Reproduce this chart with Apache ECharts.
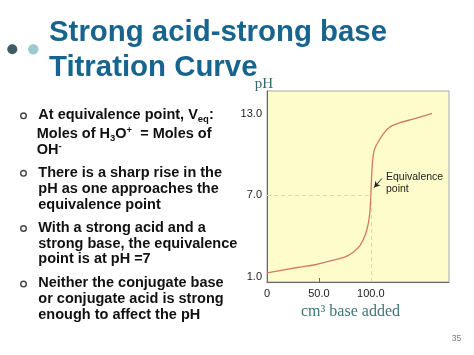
<!DOCTYPE html>
<html><head><meta charset="utf-8">
<script src="https://cdn.jsdelivr.net/npm/echarts@6/dist/echarts.min.js"></script>
<style>html,body{margin:0;padding:0;background:#fff}#c{width:474px;height:355px}</style>
</head><body><div id="c"></div>
<script>
// ---- data ----
const titleLines = ['Strong acid-strong base', 'Titration Curve'];
const volumes = [0, 29.1, 48.4, 63.8, 75.3, 83.0, 89.7, 94.5, 97.4, 99.1, 100.1, 100.8, 101.6, 102.7, 104.4, 107.3, 112.2, 118.6, 128.2, 140.7, 159.0];
const phValues = [1.28, 1.67, 1.91, 2.21, 2.45, 2.80, 3.31, 4.05, 4.86, 5.75, 7.12, 8.45, 9.44, 10.11, 10.56, 10.96, 11.56, 12.05, 12.37, 12.62, 13.04];
const yTickValues = [1, 7, 13];
const xTickValues = [0, 50, 100];
const equivalence = [100, 7];
const arrowFrom = [110.6, 8.24];
const arrowTo = [103.2, 7.57];
const yAxisName = 'pH';
const xAxisName = 'cm\u00b3 base added';
const annotationText = 'Equivalence\npoint';
const pageNumber = '35';

const SANS = 'Liberation Sans, Arial, sans-serif';
const SERIF = 'Liberation Serif, Times New Roman, serif';
const Y_MIN = 0.6, Y_MAX = 14.7, X_MIN = 0, X_MAX = 175.3;

const BODY = 14.5;
const bodyRich = {
  n: { fontSize: BODY, fontFamily: SANS, fontWeight: 'bold', fill: '#111', lineHeight: 18 },
  sb: { fontSize: 9.5, fontFamily: SANS, fontWeight: 'bold', fill: '#111', lineHeight: 9, verticalAlign: 'bottom' },
  sp: { fontSize: 9.5, fontFamily: SANS, fontWeight: 'bold', fill: '#111', lineHeight: 9, verticalAlign: 'top' }
};
// [text, x, baseline, hasBullet]
const bodyLines = [
  ['{n|At equivalence point, V}{sb|eq}{n|:}', 38.3, 120, true],
  ['{n|Moles of H}{sb|3}{n|O}{sp|+}{n|  = Moles of}', 36.7, 139, false],
  ['{n|OH}{sp|-}', 36.7, 155.2, false],
  ['{n|There is a sharp rise in the}', 38.3, 177.5, true],
  ['{n|pH as one approaches the}', 38.3, 193.7, false],
  ['{n|equivalence point}', 38.3, 210, false],
  ['{n|With a strong acid and a}', 38.3, 232.7, true],
  ['{n|strong base, the equivalence}', 38.3, 249, false],
  ['{n|point is at pH =7}', 38.3, 264.3, false],
  ['{n|Neither the conjugate base}', 38.3, 288.3, true],
  ['{n|or conjugate acid is strong}', 38.3, 304.3, false],
  ['{n|enough to affect the pH}', 38.3, 320.3, false]
];

const graphics = [];
graphics.push({ type: 'circle', shape: { cx: 12.3, cy: 49.3, r: 5 }, style: { fill: '#3d5c63' } });
graphics.push({ type: 'circle', shape: { cx: 33.3, cy: 49.3, r: 5.2 }, style: { fill: '#9dc9d4' } });
titleLines.forEach((t, i) => {
  graphics.push({ type: 'text', x: 49, y: [33, 67.5][i],
    style: { text: t, fontSize: 29.4, fontWeight: 'bold', fontFamily: SANS, fill: '#17648f', align: 'left', verticalAlign: 'middle' } });
});
bodyLines.forEach(([t, x, base, bullet]) => {
  graphics.push({ type: 'text', x: x, y: base - 5,
    style: { text: t, rich: bodyRich, align: 'left', verticalAlign: 'middle' } });
  if (bullet) {
    graphics.push({ type: 'circle', shape: { cx: 23.5, cy: base - 4.2, r: 2.8 },
      style: { fill: 'none', stroke: '#444', lineWidth: 1.4 } });
  }
});
graphics.push({ type: 'text', x: 264, y: 83.9,
  style: { text: yAxisName, fontSize: 15, fontFamily: SERIF, fill: '#2e6b6e', align: 'center', verticalAlign: 'middle' } });
graphics.push({ type: 'text', x: 350.5, y: 311.3,
  style: { text: xAxisName, fontSize: 16, fontFamily: SERIF, fill: '#3a7677', align: 'center', verticalAlign: 'middle' } });
graphics.push({ type: 'text', x: 386, y: 183.2,
  style: { text: annotationText, fontSize: 10.5, lineHeight: 12.6, fontFamily: SANS, fill: '#222', align: 'left', verticalAlign: 'middle' } });
graphics.push({ type: 'text', x: 456.5, y: 339,
  style: { text: pageNumber, fontSize: 8.5, fontFamily: SANS, fill: '#777', align: 'center', verticalAlign: 'middle' } });

const chart = echarts.init(document.getElementById('c'), null, { renderer: 'canvas' });
chart.setOption({
  animation: false,
  backgroundColor: '#ffffff',
  grid: { left: 267, right: 25, top: 91, bottom: 73, show: true, backgroundColor: '#fefccb', borderColor: '#a8a8a8', borderWidth: 1 },
  xAxis: {
    type: 'value', min: X_MIN, max: X_MAX,
    axisLine: { show: true, onZero: false, lineStyle: { color: '#666', width: 1 } },
    axisTick: { show: true, inside: true, length: 4, customValues: xTickValues.filter(v => v > 0), lineStyle: { color: '#666' } },
    axisLabel: { customValues: xTickValues, formatter: v => (v === 0 ? '0' : v.toFixed(1)), margin: 6, color: '#222', fontSize: 11, fontFamily: SANS },
    splitLine: { show: false }
  },
  yAxis: {
    type: 'value', min: Y_MIN, max: Y_MAX,
    axisLine: { show: true, onZero: false, lineStyle: { color: '#666', width: 1 } },
    axisTick: { show: false },
    axisLabel: { customValues: yTickValues, formatter: v => v.toFixed(1), margin: 5, color: '#222', fontSize: 11, fontFamily: SANS },
    splitLine: { show: false }
  },
  series: [
    {
      type: 'line',
      data: volumes.map((v, i) => [v, phValues[i]]),
      showSymbol: false, symbol: 'none',
      smooth: 0.3,
      lineStyle: { color: '#d07a66', width: 1.3 },
      z: 3,
      markLine: {
        silent: true, symbol: 'none', label: { show: false },
        lineStyle: { type: [4, 3], color: '#e2d6a4', width: 1 },
        data: [
          [{ coord: [X_MIN, equivalence[1]] }, { coord: equivalence }],
          [{ coord: [equivalence[0], Y_MIN] }, { coord: equivalence }]
        ]
      }
    },
    {
      type: 'line', data: [], showSymbol: false,
      markLine: {
        silent: true, symbol: ['none', 'arrow'], symbolSize: [5, 6], label: { show: false },
        lineStyle: { type: 'solid', color: '#222', width: 1 },
        data: [[{ coord: arrowFrom }, { coord: arrowTo }]]
      }
    }
  ],
  graphic: graphics
});
</script>
</body></html>
